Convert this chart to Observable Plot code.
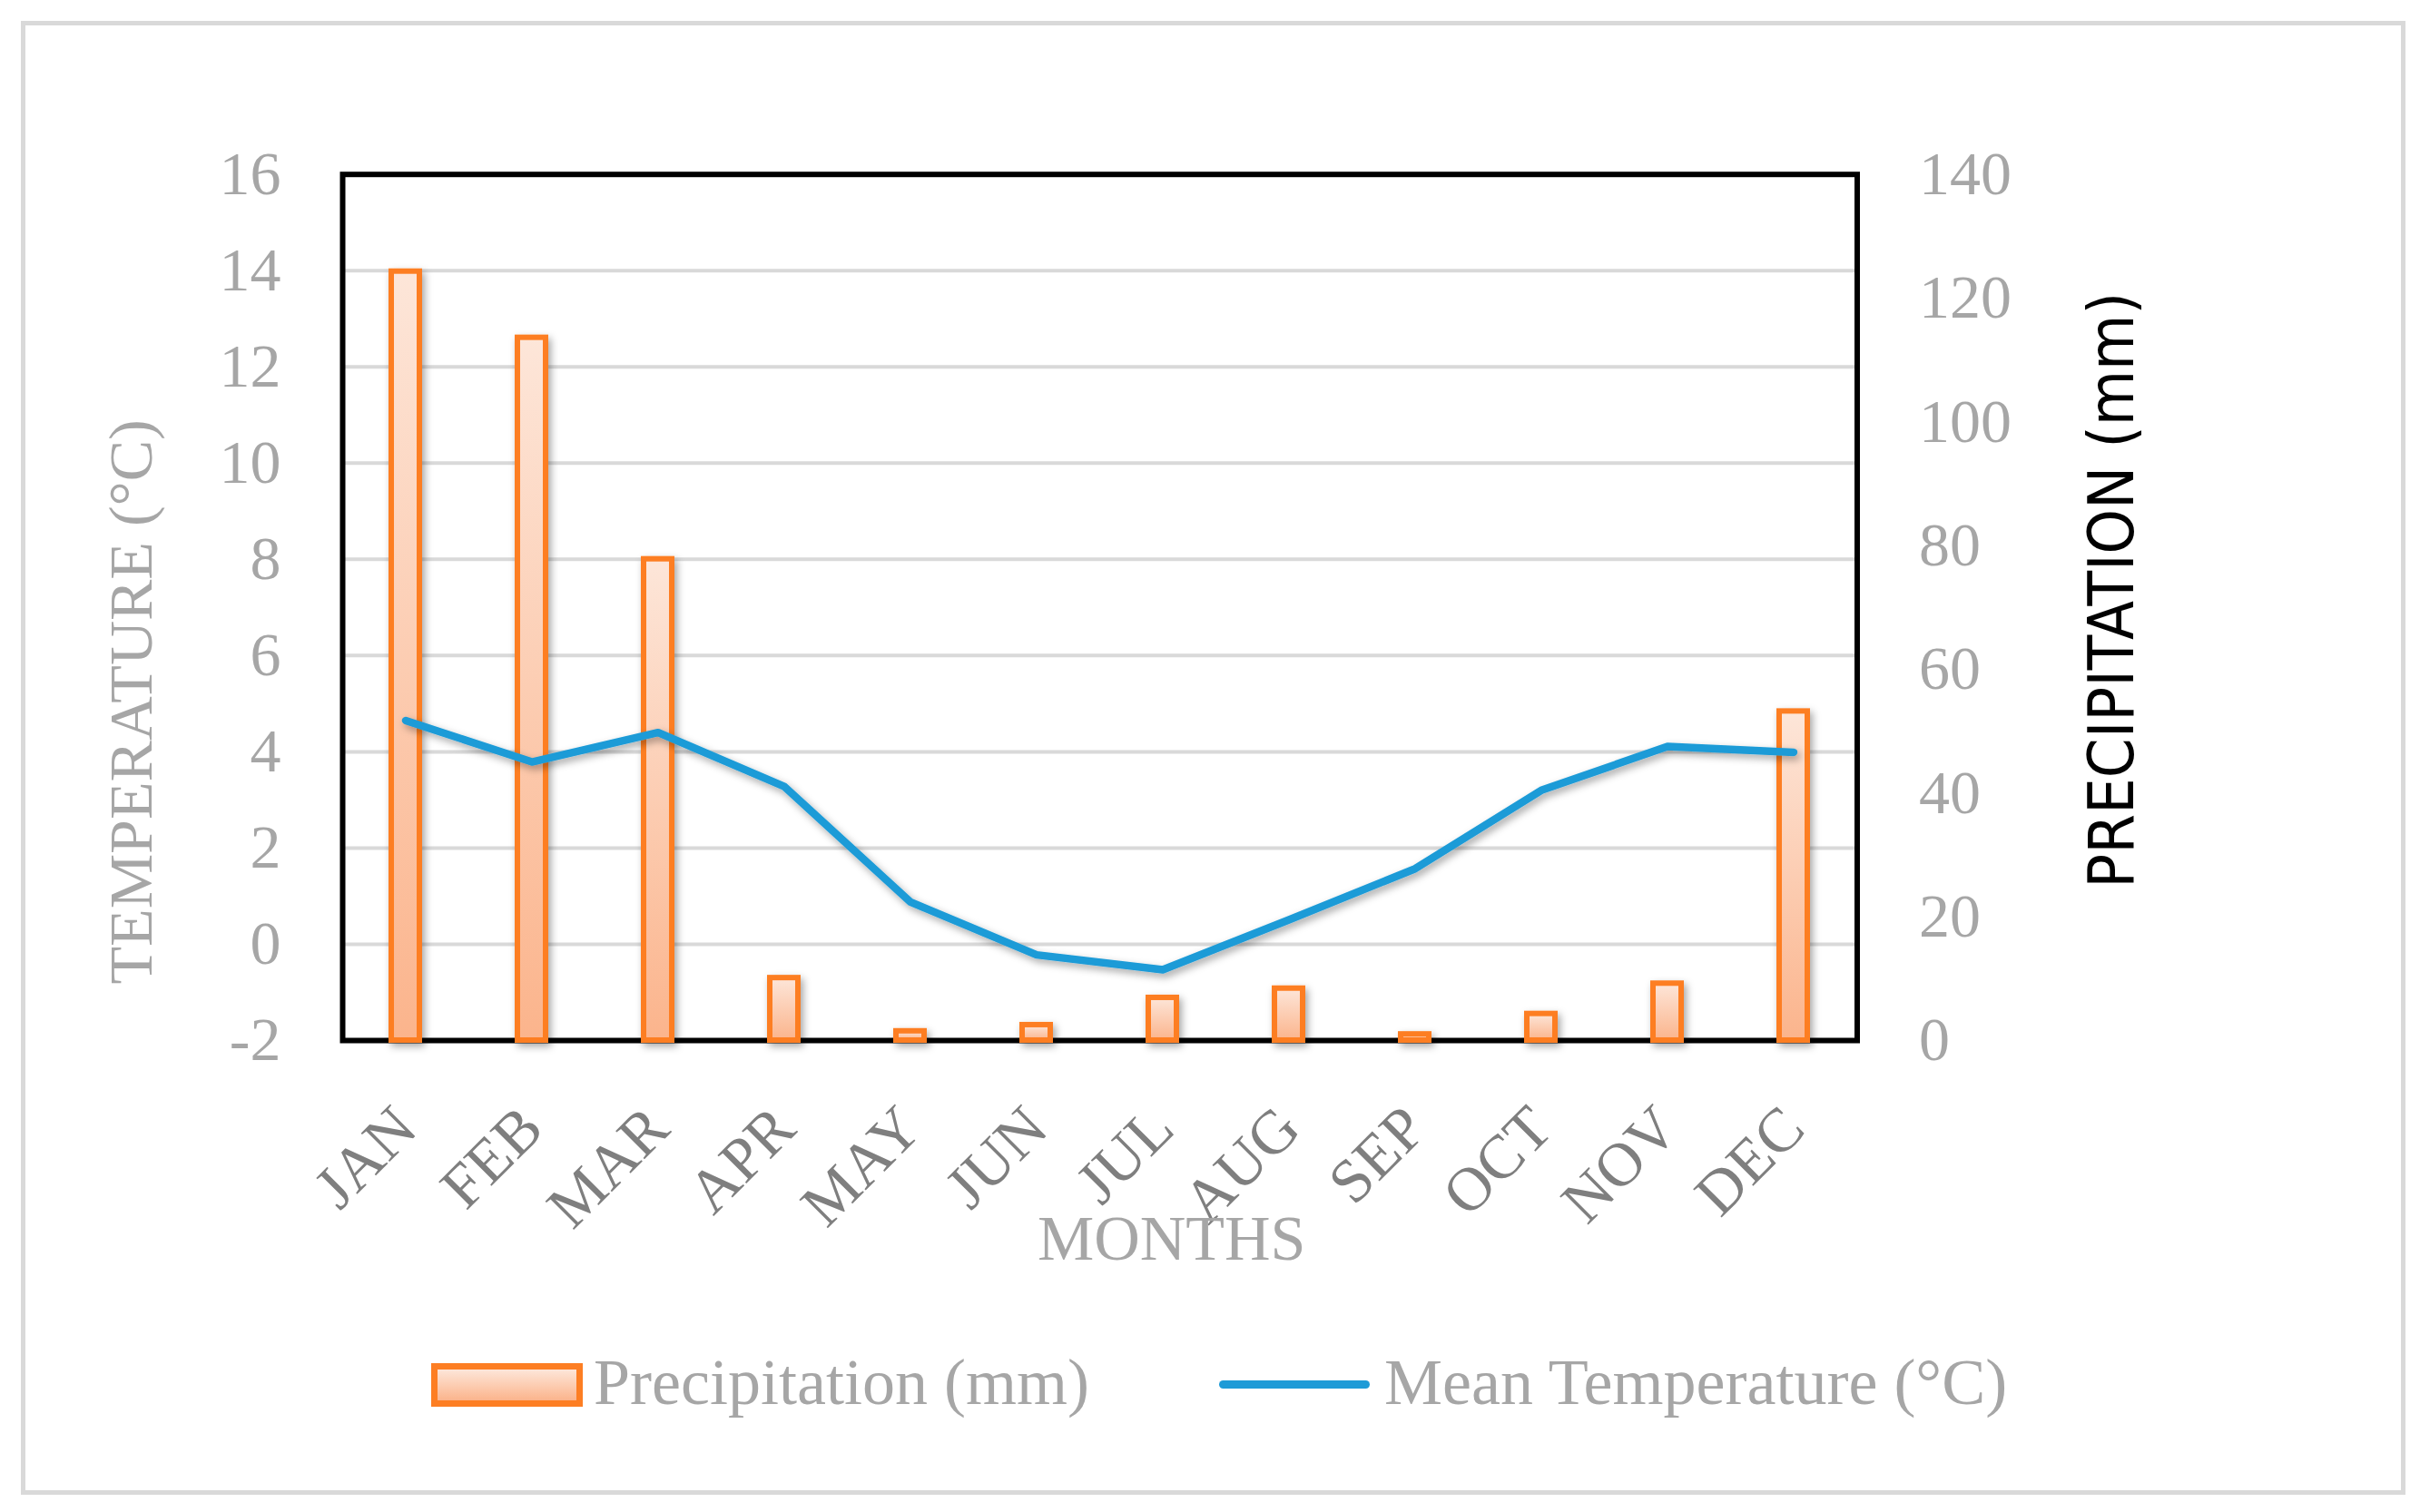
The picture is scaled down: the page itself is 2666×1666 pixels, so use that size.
<!DOCTYPE html>
<html>
<head>
<meta charset="utf-8">
<script src="https://cdn.jsdelivr.net/npm/d3@7"></script>
<script src="https://cdn.jsdelivr.net/npm/@observablehq/plot@0.6"></script>
<style>
  html, body { margin: 0; padding: 0; background: #fff; }
  #page { position: relative; width: 2666px; height: 1666px; overflow: hidden; }
  #border { position: absolute; left: 23px; top: 23px; width: 2627px; height: 1624px;
            box-sizing: border-box; border: 5px solid #d9d9d9; }
  #chart { position: absolute; left: 0; top: 0; }
  .legend-item { position: absolute; font-family: "Liberation Serif", serif; font-size: 72px;
                 line-height: 1; color: #a6a6a6; white-space: nowrap; }
  .swatch-bar { position: absolute; box-sizing: border-box; border: 7px solid #fd7e23;
                background: linear-gradient(#fde6d9, #fbb48c); }
  .swatch-line { position: absolute; background: #1e9bd7; border-radius: 5px; }
</style>
</head>
<body>
<div id="page">
  <div id="border"></div>
  <div id="chart"></div>
  <div class="swatch-bar" style="left:475px; top:1502px; width:167px; height:48px;"></div>
  <div class="legend-item" style="left:654px; top:1487px;">Precipitation (mm)</div>
  <div class="swatch-line" style="left:1343px; top:1521px; width:166px; height:9px;"></div>
  <div class="legend-item" style="left:1525px; top:1487px;">Mean Temperature (°C)</div>
</div>
<script>
// Monthly climate normals
const months = ["JAN", "FEB", "MAR", "APR", "MAY", "JUN", "JUL", "AUG", "SEP", "OCT", "NOV", "DEC"];
const precipitation = [124.3, 113.6, 77.8, 10.1, 1.5, 2.5, 6.9, 8.4, 1.0, 4.3, 9.2, 53.2];   // mm
const meanTemperature = [4.65, 3.79, 4.40, 3.28, 0.88, -0.22, -0.53, 0.51, 1.57, 3.20, 4.11, 3.99]; // °C

const temperatureTicks = [-2, 0, 2, 4, 6, 8, 10, 12, 14, 16];
const precipitationTicks = [0, 20, 40, 60, 80, 100, 120, 140];

// The precipitation axis (0–140 mm) shares the frame with the temperature axis (-2–16 °C)
const tMin = -2, tMax = 16, pMax = 140;
const toTemp = p => tMin + p * (tMax - tMin) / pMax;
const toPrecip = t => (t - tMin) * pMax / (tMax - tMin);

const data = months.map((month, i) => ({
  month,
  precip: precipitation[i],
  temp: meanTemperature[i]
}));

const serif = "'Liberation Serif', 'Times New Roman', serif";

const svg = Plot.plot({
  width: 2666,
  height: 1440,
  marginLeft: 377,
  marginRight: 620.5,
  marginTop: 191.7,
  marginBottom: 294,
  style: { fontFamily: serif, fontSize: "68px", background: "transparent", overflow: "visible" },
  x: { type: "band", domain: months, paddingInner: 0.78, paddingOuter: 0.39, label: null },
  y: { domain: [tMin, tMax], label: null },
  marks: [
    Plot.ruleY(temperatureTicks.filter(t => t > tMin && t < tMax), { stroke: "#d9d9d9", strokeWidth: 4 }),
    Plot.frame({ stroke: "#000", strokeWidth: 6 }),
    Plot.axisY(temperatureTicks, {
      anchor: "left", tickSize: 0, tickPadding: 68, fill: "#a6a6a6", label: null,
      tickFormat: t => String(t)
    }),
    Plot.axisY(precipitationTicks.map(toTemp), {
      anchor: "right", tickSize: 0, tickPadding: 68, fill: "#a6a6a6", label: null,
      tickFormat: t => String(Math.round(toPrecip(t)))
    }),
    Plot.axisX({ anchor: "bottom", tickSize: 0, tickPadding: 85, tickRotate: -45, fill: "#7f7f7f", label: null }),
    Plot.barY(data, {
      x: "month", y1: tMin, y2: d => toTemp(d.precip),
      fill: "url(#barGradient)", stroke: "#fd7e23", strokeWidth: 6
    }),
    Plot.line(data, { x: "month", y: "temp", stroke: "#1e9bd7", strokeWidth: 8.5, strokeLinejoin: "round" }),
    Plot.text(["TEMPERATURE (°C)"], {
      text: d => d, frameAnchor: "left", textAnchor: "middle", dx: -232, dy: 104, rotate: -90,
      fill: "#a6a6a6", fontSize: 68
    }),
    Plot.text(["MONTHS"], {
      text: d => d, frameAnchor: "bottom", lineAnchor: "bottom", dx: 79, dy: 241, fill: "#a6a6a6", fontSize: 70
    }),
    Plot.text(["PRECIPITATION (mm)"], {
      text: d => d, frameAnchor: "right", textAnchor: "middle", dx: 282, dy: -19, rotate: -90,
      fill: "#000", fontSize: 70,
      fontFamily: "'Liberation Sans Narrow', 'DejaVu Sans Condensed', sans-serif"
    })
  ]
});

// Gradient fill for the bars and a soft drop shadow for bars and line
const root = d3.select(svg);
const defs = root.insert("defs", ":first-child");
const grad = defs.append("linearGradient")
  .attr("id", "barGradient").attr("x1", 0).attr("y1", 0).attr("x2", 0).attr("y2", 1);
grad.append("stop").attr("offset", "0%").attr("stop-color", "#fde6d9");
grad.append("stop").attr("offset", "100%").attr("stop-color", "#fbb48c");
defs.append("filter")
  .attr("id", "shadow").attr("x", "-50%").attr("y", "-50%").attr("width", "200%").attr("height", "200%")
  .append("feDropShadow")
  .attr("dx", 3).attr("dy", 4).attr("stdDeviation", 4)
  .attr("flood-color", "#000").attr("flood-opacity", 0.35);
root.selectAll('g[aria-label="bar"], g[aria-label="line"]').attr("filter", "url(#shadow)");

document.getElementById("chart").appendChild(svg);
</script>
</body>
</html>
